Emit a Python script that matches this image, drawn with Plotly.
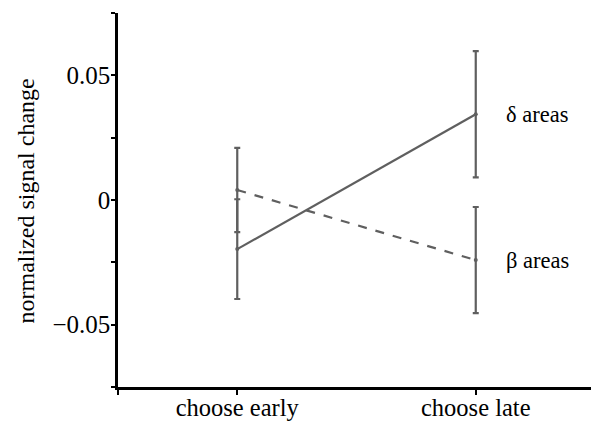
import plotly.graph_objects as go

categories = ["choose early", "choose late"]
delta_mean = [-0.0197, 0.0344]
delta_err = [0.0200, 0.0253]
beta_mean = [0.0040, -0.0241]
beta_err = [0.0169, 0.0213]
series_labels = ["δ areas", "β areas"]
ytick_vals = [-0.075, -0.05, -0.025, 0, 0.025, 0.05, 0.075]
ytick_text = ["", "−0.05", "", "0", "", "0.05", ""]

xpos = [0, 1]
gray = "#5f5f5f"
font = "Liberation Serif"

fig = go.Figure()
fig.add_trace(go.Scatter(
    x=xpos, y=beta_mean, mode="lines+markers",
    line=dict(color=gray, width=2.2, dash="dash"),
    marker=dict(size=4, color=gray),
    error_y=dict(type="data", array=beta_err, color=gray, thickness=2.2, width=3),
    showlegend=False))
fig.add_trace(go.Scatter(
    x=xpos, y=delta_mean, mode="lines+markers",
    line=dict(color=gray, width=2.2),
    marker=dict(size=4, color=gray),
    error_y=dict(type="data", array=delta_err, color=gray, thickness=2.2, width=3),
    showlegend=False))

fig.add_annotation(x=1, y=delta_mean[1], text=series_labels[0], showarrow=False,
                   xanchor="left", xshift=28, font=dict(family=font, size=22.5, color="black"))
fig.add_annotation(x=1, y=beta_mean[1], text=series_labels[1], showarrow=False,
                   xanchor="left", xshift=28, font=dict(family=font, size=22.5, color="black"))
fig.add_annotation(x=0, y=0.496, xref="paper", yref="paper", text="normalized signal change",
                   showarrow=False, textangle=-90, xanchor="center", yanchor="middle",
                   xshift=-92, font=dict(family=font, size=24, color="black"))

fig.update_layout(
    width=591, height=413,
    margin=dict(l=110, r=4, t=5, b=34),
    paper_bgcolor="white", plot_bgcolor="white",
    font=dict(family=font, color="black"),
    xaxis=dict(range=[-0.5, 1.5], tickvals=[-0.5, 0, 1, 1.5],
               ticktext=["", categories[0], categories[1], ""], automargin=False,
               showgrid=False, zeroline=False, showline=True, linecolor="black", linewidth=2.5,
               ticks="outside", ticklen=5, tickwidth=2, tickcolor="black",
               ticklabelstandoff=-8,
               tickfont=dict(family=font, size=24.5, color="black")),
    yaxis=dict(range=[-0.075, 0.075], tickvals=ytick_vals, ticktext=ytick_text, automargin=False,
               showgrid=False, zeroline=False, showline=True, linecolor="black", linewidth=2.5,
               ticks="outside", ticklen=4, tickwidth=2, tickcolor="black",
               ticklabelstandoff=-4,
               tickfont=dict(family=font, size=25, color="black")),
)
fig.write_html("out.html")
